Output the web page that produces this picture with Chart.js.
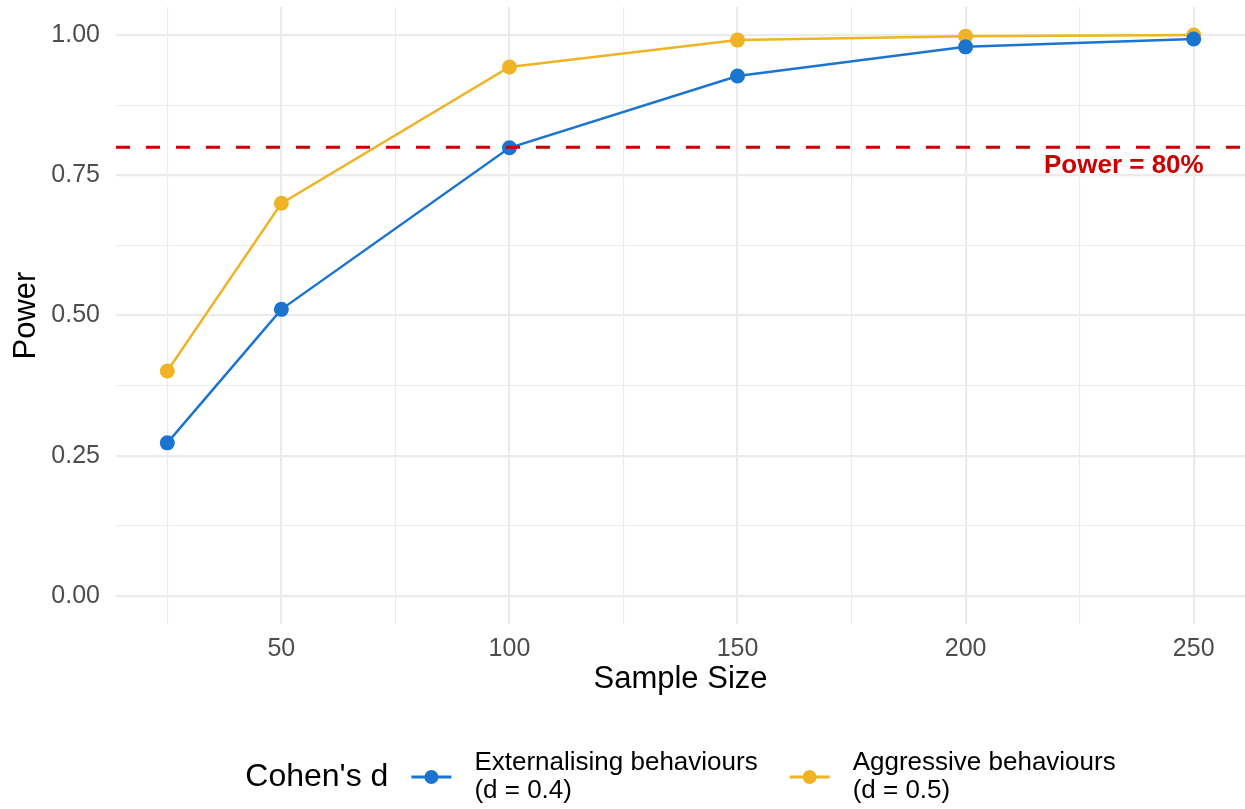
<!DOCTYPE html>
<html>
<head>
<meta charset="utf-8">
<script src="https://cdn.jsdelivr.net/npm/chart.js@4/dist/chart.umd.min.js"></script>
<style>
  html, body { margin: 0; padding: 0; background: #fff; overflow: hidden; }
  canvas { display: block; }
</style>
</head>
<body>
<canvas id="powerChart" width="1245" height="809"></canvas>
<script>
// sample sizes and power from the simulation
var sampleSizes = [25, 50, 100, 150, 200, 250];
var powerExt = [0.273, 0.511, 0.799, 0.927, 0.979, 0.993];
var powerAgg = [0.401, 0.700, 0.943, 0.991, 0.998, 1.000];
var seriesNames = [["Externalising behaviours", "(d = 0.4)"], ["Aggressive behaviours", "(d = 0.5)"]];
var seriesColors = ["#1b75d0", "#efb325"];
var xTicks = [25, 50, 75, 100, 125, 150, 175, 200, 225, 250];
var yTicks = [0, 0.125, 0.25, 0.375, 0.5, 0.625, 0.75, 0.875, 1];
var powerTarget = 0.8;

var FONT = "'Liberation Sans', Arial, Helvetica, sans-serif";

function toPoints(xs, ys) {
  return xs.map(function(x, i){ return {x: x, y: ys[i]}; });
}

// dashed reference line + label
var targetLine = {
  id: "targetLine",
  afterDatasetsDraw: function(chart) {
    var ctx = chart.ctx, area = chart.chartArea;
    var y = chart.scales.y.getPixelForValue(powerTarget);
    ctx.save();
    ctx.strokeStyle = "#cc0000";
    ctx.lineWidth = 3;
    ctx.setLineDash([14, 16]);
    ctx.beginPath();
    ctx.moveTo(area.left, y);
    ctx.lineTo(area.right, y);
    ctx.stroke();
    ctx.setLineDash([]);
    ctx.fillStyle = "#cc0000";
    ctx.font = "bold 26px " + FONT;
    ctx.textAlign = "right";
    ctx.textBaseline = "middle";
    ctx.fillText("Power = 80%", chart.scales.x.getPixelForValue(250) + 10, y + 19);
    ctx.restore();
  }
};

// ggplot style legend at the bottom
var bottomLegend = {
  id: "bottomLegend",
  afterDraw: function(chart) {
    var ctx = chart.ctx, area = chart.chartArea;
    var cy = 777;
    ctx.save();
    ctx.textBaseline = "middle";
    ctx.font = "32px " + FONT;
    var titleW = ctx.measureText("Cohen's d").width;
    ctx.font = "26px " + FONT;
    var labelW = chart.data.datasets.map(function(ds){
      return Math.max.apply(null, ds.legendLines.map(function(t){ return ctx.measureText(t).width; }));
    });
    var total = titleW + 23 + (40 + 23) * 2 + labelW[0] + 32 + labelW[1];
    var x = (area.left + area.right) / 2 - total / 2;
    ctx.fillStyle = "#000";
    ctx.font = "32px " + FONT;
    ctx.textAlign = "left";
    ctx.fillText("Cohen's d", x, cy);
    x += titleW + 23;
    chart.data.datasets.forEach(function(ds, i){
      ctx.strokeStyle = ds.borderColor;
      ctx.lineWidth = 3;
      ctx.beginPath();
      ctx.moveTo(x, cy);
      ctx.lineTo(x + 40, cy);
      ctx.stroke();
      ctx.fillStyle = ds.borderColor;
      ctx.beginPath();
      ctx.arc(x + 20, cy, 7, 0, Math.PI * 2);
      ctx.fill();
      x += 40 + 23;
      ctx.fillStyle = "#000";
      ctx.font = "26px " + FONT;
      ctx.fillText(ds.legendLines[0], x, cy - 14);
      ctx.fillText(ds.legendLines[1], x, cy + 14);
      x += labelW[i] + 32;
    });
    ctx.restore();
  }
};

var ctx = document.getElementById("powerChart");
var powerChart = new Chart(ctx, {
  type: "line",
  data: {
    datasets: [
      {
        label: seriesNames[0].join(" "),
        legendLines: seriesNames[0],
        data: toPoints(sampleSizes, powerExt),
        borderColor: seriesColors[0],
        backgroundColor: seriesColors[0],
        borderWidth: 2.5,
        pointRadius: 7.5,
        pointHoverRadius: 7.5,
        pointBorderWidth: 0,
        clip: false,
        fill: false
      },
      {
        label: seriesNames[1].join(" "),
        legendLines: seriesNames[1],
        data: toPoints(sampleSizes, powerAgg),
        borderColor: seriesColors[1],
        backgroundColor: seriesColors[1],
        borderWidth: 2.5,
        pointRadius: 7.5,
        pointHoverRadius: 7.5,
        pointBorderWidth: 0,
        clip: false,
        fill: false
      }
    ]
  },
  options: {
    responsive: false,
    devicePixelRatio: 1,
    animation: false,
    layout: { autoPadding: false, padding: { top: 7, right: 0, bottom: 109, left: 0 } },
    plugins: {
      legend: { display: false },
      tooltip: { enabled: false }
    },
    scales: {
      x: {
        type: "linear",
        min: 13.75,
        max: 261.25,
        border: { display: false },
        afterBuildTicks: function(scale){
          scale.ticks = xTicks.map(function(v){ return {value: v}; });
        },
        afterFit: function(scale){
          scale.height = 76;
          scale.paddingLeft = 0;
          scale.paddingRight = 0;
        },
        grid: {
          drawTicks: false,
          color: "#ebebeb",
          lineWidth: function(c){ return c.tick && c.tick.value % 50 == 0 ? 2.2 : 1.1; }
        },
        ticks: {
          autoSkip: false,
          maxRotation: 0,
          padding: 10,
          color: "#4d4d4d",
          font: { family: FONT, size: 25 },
          callback: function(v){ return v % 50 == 0 ? String(v) : ""; }
        },
        title: {
          display: true,
          text: "Sample Size",
          color: "#000",
          font: { family: FONT, size: 31 },
          padding: { top: 4, bottom: 2 }
        }
      },
      y: {
        type: "linear",
        min: -0.05,
        max: 1.05,
        border: { display: false },
        afterBuildTicks: function(scale){
          scale.ticks = yTicks.map(function(v){ return {value: v}; });
        },
        afterFit: function(scale){
          scale.width = 116;
          scale.paddingTop = 0;
          scale.paddingBottom = 0;
        },
        grid: {
          drawTicks: false,
          color: "#ebebeb",
          lineWidth: function(c){ return c.tick && (c.tick.value * 4) % 1 == 0 ? 2.2 : 1.1; }
        },
        ticks: {
          padding: 16,
          color: "#4d4d4d",
          font: { family: FONT, size: 25 },
          callback: function(v){ return (v * 4) % 1 == 0 ? v.toFixed(2) : ""; }
        },
        title: {
          display: true,
          text: "Power",
          color: "#000",
          font: { family: FONT, size: 31 },
          padding: { top: 8, bottom: 4 }
        }
      }
    }
  },
  plugins: [targetLine, bottomLegend]
});
</script>
</body>
</html>
